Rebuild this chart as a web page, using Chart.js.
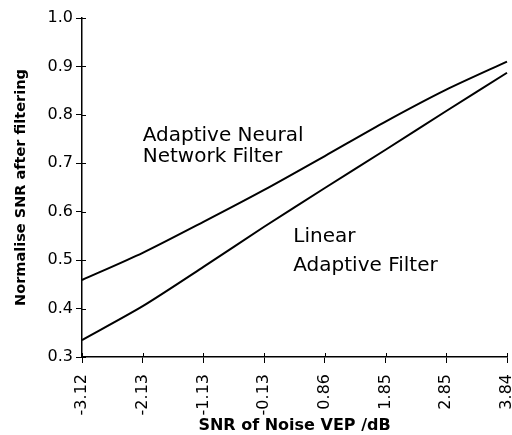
<!DOCTYPE html>
<html>
<head>
<meta charset="utf-8">
<script src="https://cdn.jsdelivr.net/npm/chart.js@4"></script>
<style>
  html, body { margin: 0; padding: 0; background: #fff; }
  #wrap { width: 512px; height: 435px; }
</style>
</head>
<body>
<div id="wrap"><canvas id="chart" width="512" height="435"></canvas></div>
<script>
// data
const snrLabels = ["-3.12", "-2.13", "-1.13", "-0.13", "0.86", "1.85", "2.85", "3.84"];
const neuralFilter = [0.459, 0.515, 0.579, 0.645, 0.715, 0.786, 0.852, 0.910];
const linearFilter = [0.335, 0.405, 0.486, 0.569, 0.649, 0.728, 0.808, 0.887];

// curve labels: [text lines], x index, y value of the first baseline, line gap (value)
const neuralNote = [["Adaptive Neural", "Network Filter"], 1.0, 0.746, 0.043];
const linearNote = [["Linear", "Adaptive Filter"], 3.48, 0.538, 0.06];

const tickFont = { family: "DejaVu Sans", size: 16 };

// draws the in-plot text and the small inward part of each tick
const notesPlugin = {
  id: "notes",
  afterDraw(chart) {
    const ctx = chart.ctx;
    const x = chart.scales.x;
    const y = chart.scales.y;
    ctx.save();
    ctx.strokeStyle = "#000";
    ctx.lineWidth = 1;
    ctx.beginPath();
    for (let i = 0; i < snrLabels.length; i++) {
      const px = Math.round(x.getPixelForValue(i)) + 0.5;
      ctx.moveTo(px, y.bottom);
      ctx.lineTo(px, y.bottom - 4);
    }
    for (let v = 0.3; v <= 1.0001; v += 0.1) {
      const py = Math.round(y.getPixelForValue(v)) + 0.5;
      ctx.moveTo(x.left, py);
      ctx.lineTo(x.left + 4, py);
    }
    ctx.stroke();

    ctx.fillStyle = "#000";
    ctx.font = "20px 'DejaVu Sans'";
    ctx.textBaseline = "alphabetic";
    ctx.textAlign = "left";
    for (const [lines, xi, yv, gap] of [neuralNote, linearNote]) {
      lines.forEach((t, k) => {
        ctx.fillText(t, x.getPixelForValue(xi), y.getPixelForValue(yv - k * gap));
      });
    }
    ctx.restore();
  }
};

const ctx = document.getElementById("chart").getContext("2d");
const chart = new Chart(ctx, {
  type: "line",
  data: {
    labels: snrLabels,
    datasets: [
      {
        label: "Adaptive Neural Network Filter",
        data: neuralFilter,
        borderColor: "#000",
        borderWidth: 2,
        pointRadius: 0,
        tension: 0.25,
        fill: false,
      },
      {
        label: "Linear Adaptive Filter",
        data: linearFilter,
        borderColor: "#000",
        borderWidth: 2,
        pointRadius: 0,
        tension: 0.25,
        fill: false,
      },
    ],
  },
  options: {
    responsive: false,
    animation: false,
    layout: { padding: { top: 18, right: 5, left: 0, bottom: 0 } },
    plugins: {
      legend: { display: false },
      tooltip: { enabled: false },
    },
    scales: {
      x: {
        offset: false,
        grid: { drawOnChartArea: false, color: "#000", tickLength: 6, tickColor: "#000" },
        border: { color: "#000", width: 1.5 },
        ticks: { color: "#000", font: tickFont, minRotation: 90, maxRotation: 90, padding: 11 },
        title: {
          display: true,
          text: "SNR of Noise VEP /dB",
          color: "#000",
          font: { family: "DejaVu Sans", size: 16, weight: "bold" },
          padding: { top: 0, bottom: 0 },
        },
        afterFit(scale) {
          scale.height = 78;
          scale.paddingLeft = 0;
          scale.paddingRight = 0;
        },
      },
      y: {
        min: 0.3,
        max: 1.0,
        grid: { drawOnChartArea: false, color: "#000", tickLength: 6, tickColor: "#000" },
        border: { color: "#000", width: 1.5 },
        ticks: {
          stepSize: 0.1,
          color: "#000",
          font: tickFont,
          padding: 3,
          callback: (v) => v.toFixed(1),
        },
        title: {
          display: true,
          text: "Normalise SNR after filtering",
          color: "#000",
          font: { family: "DejaVu Sans", size: 14.5, weight: "bold" },
          padding: { top: 13, bottom: 2 },
        },
        afterFit(scale) { scale.width = 82; },
      },
    },
  },
  plugins: [notesPlugin],
});
</script>
</body>
</html>
